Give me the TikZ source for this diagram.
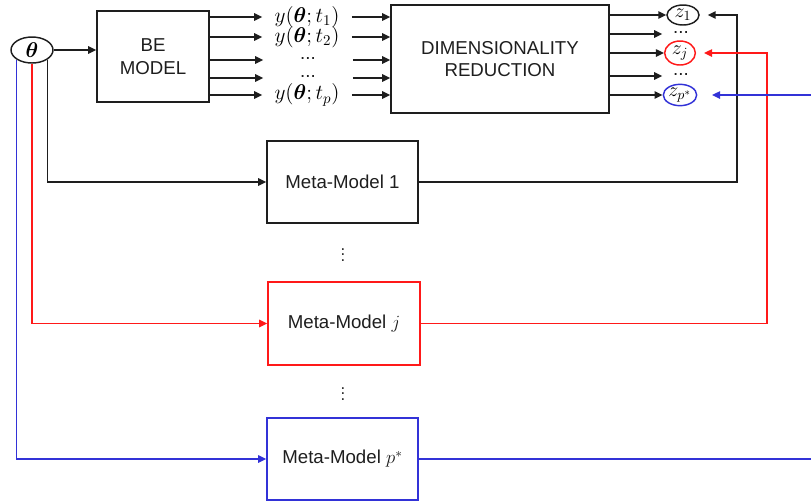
\RequirePackage{fix-cm}
\documentclass[tikz,border=0pt]{standalone}
\usepackage{amsmath,bm}
\usepackage{fontspec}
\newfontfamily\arialf{Liberation Sans}
\usetikzlibrary{arrows.meta,shapes.geometric,calc}
\definecolor{myred}{RGB}{255,25,25}
\definecolor{myblue}{RGB}{50,50,215}
\definecolor{ink}{RGB}{30,30,30}
\newcommand{\mfont}{\fontsize{16}{19}\selectfont}
\newcommand{\zfont}{\fontsize{15}{18}\selectfont}
\begin{document}
\begin{tikzpicture}[x=0.75pt,y=-0.75pt,
  line width=1.2pt,
  tip/.style={-{Triangle[length=6pt,width=5.5pt]}},
  blk/.style={draw, line width=1.2pt, inner sep=0pt, align=center,
    font=\arialf\fontsize{14}{17}\selectfont, text=ink},
  lab/.style={inner sep=0pt, minimum width=66pt, font=\mfont},
  zell/.style={ellipse, draw, line width=1.1pt, inner sep=0pt, font=\zfont},
  dotn/.style={inner sep=0pt, minimum width=27pt, font=\arialf\fontsize{14}{17}\selectfont, text=ink},
  vd/.style={inner sep=0pt, font=\Large}]
\useasboundingbox (0,0) rectangle (811,501);
\clip (0,0) rectangle (811,501);

% theta
\node[zell, draw=ink, minimum width=31.5pt, minimum height=19.5pt, font=\mfont] (theta) at (32,50) {$\bm{\theta}$};

% boxes
\node[blk, draw=ink, minimum width=84pt, minimum height=68.25pt] (BE) at (153,56.5) {BE\\MODEL};
\node[blk, draw=ink, minimum width=163.5pt, minimum height=81pt] (DR) at (500,59) {DIMENSIONALITY\\REDUCTION};
\node[blk, draw=ink, minimum width=113.25pt, minimum height=61.5pt] (MM1) at (342.5,182) {Meta-Model 1};
\node[blk, draw=myred, minimum width=114pt, minimum height=62.25pt] (MMj) at (344,323.5) {Meta-Model $j$};
\node[blk, draw=myblue, minimum width=113.25pt, minimum height=61.5pt] (MMp) at (342.5,459) {Meta-Model $p^{*}$};

% vertical dots
\node[vd] (v1) at (343,251) {$\vdots$};
\node[vd] (v2) at (343,390) {$\vdots$};

% BE outputs
\node[lab] (l1) at (307,17) {$y(\bm{\theta};t_1)$};
\node[lab] (l2) at (307,37) {$y(\bm{\theta};t_2)$};
\node[dotn, minimum width=66pt] (l3) at (308,58) {...};
\node[dotn, minimum width=66pt] (l4) at (308,76) {...};
\node[lab] (l5) at (307,95) {$y(\bm{\theta};t_p)$};

% z column
\node[zell, draw=ink, minimum width=24pt, minimum height=15pt] (z1) at (683,15) {$z_1$};
\node[dotn] (d1) at (681,32) {...};
\node[zell, draw=myred, minimum width=23pt, minimum height=18pt] (zj) at (680,53) {$z_j$};
\node[dotn] (d2) at (681,74) {...};
\node[zell, draw=myblue, minimum width=25pt, minimum height=16pt] (zp) at (680,95) {$z_{p^*}$};

% theta -> BE
\draw[tip, ink] (theta.east) -- (theta.east -| BE.west);

% BE -> labels -> DR
\foreach \n/\yy in {l1/17,l2/37,l3/60,l4/78,l5/95}{
  \draw[tip, ink] (BE.east |- 0,\yy) -- (\n.west |- 0,\yy);
  \draw[tip, ink] (\n.east |- 0,\yy) -- (DR.west |- 0,\yy);
}

% DR -> z column
\foreach \n/\yy in {z1/15,d1/34,zj/53,d2/76,zp/95}{
  \draw[tip, ink] (DR.east |- 0,\yy) -- (\n.west |- 0,\yy);
}

% theta -> meta-models
\draw[tip, ink] (theta.south east) |- (MM1.west);
\draw[tip, myred] (theta.south) |- (MMj.west);
\draw[tip, myblue] (theta.south west) |- (MMp.west);

% feedback
\coordinate (k1) at (737,15);
\coordinate (k2) at (767,53);
\coordinate (k3) at (830,95);
\draw[tip, ink, shorten >=6pt] (MM1.east) -| (k1) -- (z1.east);
\draw[tip, myred, shorten >=6pt] (MMj.east) -| (k2) -- (zj.east);
\draw[tip, myblue, shorten >=11pt] (MMp.east) -| (k3) -- (zp.east);
\end{tikzpicture}
\end{document}
